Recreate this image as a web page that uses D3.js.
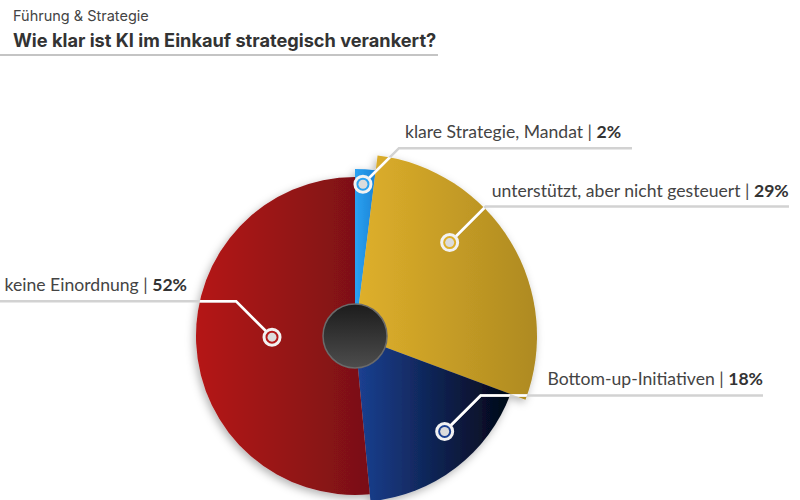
<!DOCTYPE html>
<html>
<head>
<meta charset="utf-8">
<script src="https://cdn.jsdelivr.net/npm/d3@7"></script>
<style>
  html, body { margin: 0; padding: 0; background: #fff; }
  svg { display: block; }
</style>
</head>
<body>
<div id="chart"></div>
<script>
// Daten
const categories = ["klare Strategie, Mandat", "unterstützt, aber nicht gesteuert", "Bottom-up-Initiativen", "keine Einordnung"];
const shares = [2, 29, 18, 52];
const colorsLight = ["#2ba2f2", "#dfb02b", "#1b4193", "#b51919"];
const colorsDark = ["#1b84d6", "#ae8a21", "#030716", "#791019"];
// relative Radien je Segment (Rosendiagramm)
const radii = [167, 182, 166, 159];

// Beschriftung: Ankerpunkt im Segment (Anteil des Winkels, Radius), Leitlinie
const labelLayout = [
  { frac: 0.42, r: 152, dir: 1, lineEnd: 632, anchor: "start" },
  { frac: 0.37, r: 133, dir: 1, lineEnd: 789, anchor: "start" },
  { frac: 0.41, r: 131, dir: 1, lineEnd: 763, anchor: "end" },
  { frac: 0.51, r: 83, dir: -1, lineEnd: 0, anchor: "end" }
];

const width = 800, height = 500;
const cx = 355, cy = 336;

const svg = d3.select("#chart").append("svg")
  .attr("width", width)
  .attr("height", height);

const defs = svg.append("defs");

// Verläufe
categories.forEach((c, i) => {
  const g = defs.append("linearGradient")
    .attr("id", "grad" + i)
    .attr("x1", 0).attr("x2", 1).attr("y1", 0).attr("y2", 0);
  g.append("stop").attr("offset", "0%").attr("stop-color", colorsLight[i]);
  g.append("stop").attr("offset", "100%").attr("stop-color", colorsDark[i]);
});

const hub = defs.append("linearGradient")
  .attr("id", "hubGrad")
  .attr("x1", 0).attr("x2", 0).attr("y1", 0).attr("y2", 1);
hub.append("stop").attr("offset", "0%").attr("stop-color", "#1c1c1c");
hub.append("stop").attr("offset", "100%").attr("stop-color", "#4d4d4d");

const shadow = defs.append("filter")
  .attr("id", "shadow")
  .attr("x", "-20%").attr("y", "-20%")
  .attr("width", "140%").attr("height", "140%");
shadow.append("feDropShadow")
  .attr("dx", -2).attr("dy", 3)
  .attr("stdDeviation", 4)
  .attr("flood-color", "#000")
  .attr("flood-opacity", 0.3);

// Kopf
svg.append("text")
  .attr("x", 13).attr("y", 21)
  .attr("font-family", "Inter, 'Open Sans', sans-serif")
  .attr("font-size", "14.5px")
  .attr("fill", "#444")
  .text("Führung & Strategie");

svg.append("text")
  .attr("x", 13).attr("y", 47)
  .attr("font-family", "Inter, 'Open Sans', sans-serif")
  .attr("font-size", "18.2px")
  .attr("font-weight", 700)
  .attr("fill", "#333")
  .text("Wie klar ist KI im Einkauf strategisch verankert?");

svg.append("line")
  .attr("x1", 0).attr("x2", 438)
  .attr("y1", 55).attr("y2", 55)
  .attr("stroke", "#c4c4c4")
  .attr("stroke-width", 2);

// Torte
const data = categories.map((c, i) => ({ name: c, value: shares[i], r: radii[i], i }));

const pie = d3.pie()
  .sort(null)
  .value(d => d.value);

const arcs = pie(data);

const arcGen = d3.arc()
  .innerRadius(0)
  .outerRadius(d => d.data.r);

const g = svg.append("g").attr("transform", `translate(${cx},${cy})`);

const clip = defs.append("clipPath").attr("id", "pieClip");
clip.selectAll("path")
  .data(arcs)
  .enter().append("path")
  .attr("transform", `translate(${cx},${cy})`)
  .attr("d", arcGen);

g.append("g")
  .attr("filter", "url(#shadow)")
  .selectAll("path")
  .data(arcs)
  .enter().append("path")
  .attr("d", arcGen)
  .attr("fill", d => `url(#grad${d.data.i})`);

// Nabe
g.append("circle")
  .attr("r", 32)
  .attr("fill", "url(#hubGrad)")
  .attr("stroke", "#6a6a6a")
  .attr("stroke-width", 1.5);

// Leitlinien + Marker
const labels = arcs.map(a => {
  const L = labelLayout[a.data.i];
  const ang = a.startAngle + (a.endAngle - a.startAngle) * L.frac;
  const mx = cx + L.r * Math.sin(ang);
  const my = cy - L.r * Math.cos(ang);
  const ex = mx + L.dir * 36;
  const ey = my - 36;
  return { a, L, mx, my, ex, ey };
});

const lineFor = d => d3.line()([[d.mx, d.my], [d.ex, d.ey], [d.L.lineEnd, d.ey]]);

svg.append("g").selectAll("path")
  .data(labels)
  .enter().append("path")
  .attr("d", lineFor)
  .attr("fill", "none")
  .attr("stroke", "#d2d2d2")
  .attr("stroke-width", 2.5);

svg.append("g")
  .attr("clip-path", "url(#pieClip)")
  .selectAll("path")
  .data(labels)
  .enter().append("path")
  .attr("d", lineFor)
  .attr("fill", "none")
  .attr("stroke", "#fff")
  .attr("stroke-width", 2.5);

const markers = svg.append("g").selectAll("g")
  .data(labels)
  .enter().append("g")
  .attr("transform", d => `translate(${d.mx},${d.my})`);

markers.append("circle")
  .attr("r", 8)
  .attr("fill", d => colorsLight[d.a.data.i])
  .attr("stroke", "#f2f2f2")
  .attr("stroke-width", 3);

markers.append("circle")
  .attr("r", 4.5)
  .attr("fill", "#dcdcdc");

// Texte
const texts = svg.append("g").selectAll("text")
  .data(labels)
  .enter().append("text")
  .attr("x", d => d.L.anchor === "start" ? d.ex + 6 : (d.L.lineEnd === 0 ? d.ex - 49 : d.L.lineEnd))
  .attr("y", d => d.ey - 10)
  .attr("text-anchor", d => d.L.anchor)
  .attr("font-family", "Lato, 'Open Sans', sans-serif")
  .attr("font-size", "17.6px")
  .attr("fill", "#444");

texts.append("tspan").text(d => d.a.data.name + " | ");
texts.append("tspan")
  .attr("font-weight", 700)
  .attr("fill", "#333")
  .text(d => d.a.data.value + "%");
</script>
</body>
</html>
